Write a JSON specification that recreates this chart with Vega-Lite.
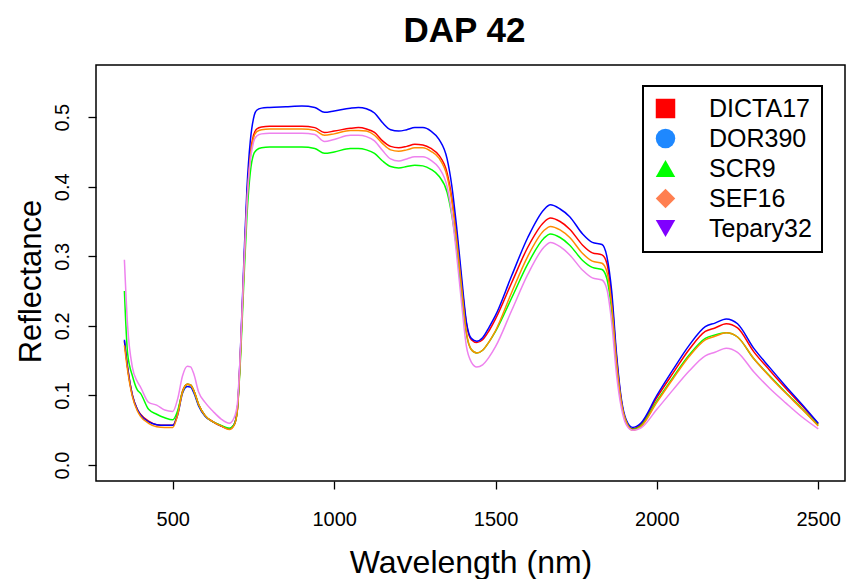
{
  "$schema": "https://vega.github.io/schema/vega-lite/v6.json",
  "width": 749,
  "height": 416,
  "autosize": "none",
  "padding": {"left": 96, "top": 65, "right": 1, "bottom": 98},
  "title": {"text": "DAP 42", "fontSize": 35, "fontWeight": "bold", "font": "Liberation Sans", "color": "black", "offset": 16, "dx": -6},
  "config": {
    "font": "Liberation Sans",
    "view": {"stroke": "black", "strokeWidth": 1.5},
    "legend": {"strokeWidth": 2},
    "axis": {"grid": false, "domain": false, "tickColor": "black", "tickWidth": 1.3, "tickSize": 8, "labelColor": "black", "titleColor": "black", "labelFont": "Liberation Sans", "titleFont": "Liberation Sans", "titleFontWeight": "normal"}
  },
  "data": {"values": [
    {"w":350,"DICTA17":0.178,"DOR390":0.180,"SCR9":0.250,"SEF16":0.172,"Tepary32":0.295},
    {"w":360,"DICTA17":0.140,"DOR390":0.140,"SCR9":0.160,"SEF16":0.136,"Tepary32":0.200},
    {"w":375,"DICTA17":0.100,"DOR390":0.100,"SCR9":0.128,"SEF16":0.098,"Tepary32":0.140},
    {"w":390,"DICTA17":0.080,"DOR390":0.080,"SCR9":0.108,"SEF16":0.078,"Tepary32":0.120},
    {"w":400,"DICTA17":0.073,"DOR390":0.072,"SCR9":0.103,"SEF16":0.070,"Tepary32":0.112},
    {"w":425,"DICTA17":0.063,"DOR390":0.062,"SCR9":0.080,"SEF16":0.060,"Tepary32":0.090},
    {"w":450,"DICTA17":0.058,"DOR390":0.058,"SCR9":0.073,"SEF16":0.055,"Tepary32":0.086},
    {"w":475,"DICTA17":0.057,"DOR390":0.057,"SCR9":0.068,"SEF16":0.054,"Tepary32":0.079},
    {"w":500,"DICTA17":0.057,"DOR390":0.057,"SCR9":0.065,"SEF16":0.054,"Tepary32":0.077},
    {"w":515,"DICTA17":0.074,"DOR390":0.072,"SCR9":0.078,"SEF16":0.072,"Tepary32":0.095},
    {"w":530,"DICTA17":0.106,"DOR390":0.103,"SCR9":0.105,"SEF16":0.105,"Tepary32":0.128},
    {"w":545,"DICTA17":0.116,"DOR390":0.113,"SCR9":0.116,"SEF16":0.116,"Tepary32":0.142},
    {"w":555,"DICTA17":0.115,"DOR390":0.112,"SCR9":0.115,"SEF16":0.115,"Tepary32":0.141},
    {"w":565,"DICTA17":0.107,"DOR390":0.104,"SCR9":0.107,"SEF16":0.107,"Tepary32":0.131},
    {"w":580,"DICTA17":0.087,"DOR390":0.085,"SCR9":0.087,"SEF16":0.087,"Tepary32":0.105},
    {"w":600,"DICTA17":0.071,"DOR390":0.070,"SCR9":0.071,"SEF16":0.071,"Tepary32":0.090},
    {"w":625,"DICTA17":0.062,"DOR390":0.062,"SCR9":0.062,"SEF16":0.062,"Tepary32":0.077},
    {"w":650,"DICTA17":0.056,"DOR390":0.056,"SCR9":0.057,"SEF16":0.056,"Tepary32":0.066},
    {"w":675,"DICTA17":0.052,"DOR390":0.052,"SCR9":0.053,"SEF16":0.051,"Tepary32":0.060},
    {"w":690,"DICTA17":0.058,"DOR390":0.058,"SCR9":0.058,"SEF16":0.057,"Tepary32":0.068},
    {"w":700,"DICTA17":0.080,"DOR390":0.080,"SCR9":0.079,"SEF16":0.078,"Tepary32":0.088},
    {"w":710,"DICTA17":0.165,"DOR390":0.170,"SCR9":0.155,"SEF16":0.162,"Tepary32":0.170},
    {"w":720,"DICTA17":0.280,"DOR390":0.290,"SCR9":0.262,"SEF16":0.275,"Tepary32":0.280},
    {"w":730,"DICTA17":0.385,"DOR390":0.400,"SCR9":0.360,"SEF16":0.380,"Tepary32":0.378},
    {"w":740,"DICTA17":0.447,"DOR390":0.465,"SCR9":0.420,"SEF16":0.442,"Tepary32":0.437},
    {"w":750,"DICTA17":0.474,"DOR390":0.498,"SCR9":0.446,"SEF16":0.470,"Tepary32":0.464},
    {"w":760,"DICTA17":0.483,"DOR390":0.510,"SCR9":0.453,"SEF16":0.479,"Tepary32":0.473},
    {"w":775,"DICTA17":0.486,"DOR390":0.513,"SCR9":0.456,"SEF16":0.482,"Tepary32":0.476},
    {"w":800,"DICTA17":0.487,"DOR390":0.514,"SCR9":0.457,"SEF16":0.483,"Tepary32":0.477},
    {"w":850,"DICTA17":0.487,"DOR390":0.515,"SCR9":0.457,"SEF16":0.483,"Tepary32":0.477},
    {"w":900,"DICTA17":0.487,"DOR390":0.516,"SCR9":0.457,"SEF16":0.483,"Tepary32":0.477},
    {"w":940,"DICTA17":0.485,"DOR390":0.514,"SCR9":0.455,"SEF16":0.481,"Tepary32":0.475},
    {"w":970,"DICTA17":0.478,"DOR390":0.507,"SCR9":0.448,"SEF16":0.474,"Tepary32":0.465},
    {"w":1000,"DICTA17":0.480,"DOR390":0.509,"SCR9":0.450,"SEF16":0.476,"Tepary32":0.468},
    {"w":1050,"DICTA17":0.484,"DOR390":0.513,"SCR9":0.455,"SEF16":0.481,"Tepary32":0.474},
    {"w":1075,"DICTA17":0.485,"DOR390":0.514,"SCR9":0.455,"SEF16":0.481,"Tepary32":0.474},
    {"w":1100,"DICTA17":0.483,"DOR390":0.512,"SCR9":0.453,"SEF16":0.480,"Tepary32":0.472},
    {"w":1125,"DICTA17":0.478,"DOR390":0.506,"SCR9":0.448,"SEF16":0.474,"Tepary32":0.466},
    {"w":1150,"DICTA17":0.466,"DOR390":0.492,"SCR9":0.437,"SEF16":0.462,"Tepary32":0.452},
    {"w":1175,"DICTA17":0.458,"DOR390":0.482,"SCR9":0.429,"SEF16":0.453,"Tepary32":0.440},
    {"w":1200,"DICTA17":0.456,"DOR390":0.480,"SCR9":0.427,"SEF16":0.451,"Tepary32":0.437},
    {"w":1225,"DICTA17":0.458,"DOR390":0.482,"SCR9":0.429,"SEF16":0.453,"Tepary32":0.440},
    {"w":1250,"DICTA17":0.461,"DOR390":0.485,"SCR9":0.431,"SEF16":0.456,"Tepary32":0.443},
    {"w":1275,"DICTA17":0.460,"DOR390":0.485,"SCR9":0.430,"SEF16":0.456,"Tepary32":0.443},
    {"w":1300,"DICTA17":0.455,"DOR390":0.480,"SCR9":0.425,"SEF16":0.451,"Tepary32":0.438},
    {"w":1325,"DICTA17":0.445,"DOR390":0.468,"SCR9":0.415,"SEF16":0.441,"Tepary32":0.427},
    {"w":1350,"DICTA17":0.420,"DOR390":0.440,"SCR9":0.392,"SEF16":0.415,"Tepary32":0.400},
    {"w":1365,"DICTA17":0.383,"DOR390":0.400,"SCR9":0.358,"SEF16":0.378,"Tepary32":0.360},
    {"w":1380,"DICTA17":0.330,"DOR390":0.340,"SCR9":0.310,"SEF16":0.322,"Tepary32":0.300},
    {"w":1395,"DICTA17":0.262,"DOR390":0.270,"SCR9":0.245,"SEF16":0.255,"Tepary32":0.232},
    {"w":1410,"DICTA17":0.203,"DOR390":0.205,"SCR9":0.188,"SEF16":0.190,"Tepary32":0.170},
    {"w":1425,"DICTA17":0.180,"DOR390":0.182,"SCR9":0.166,"SEF16":0.166,"Tepary32":0.148},
    {"w":1442,"DICTA17":0.176,"DOR390":0.178,"SCR9":0.161,"SEF16":0.161,"Tepary32":0.141},
    {"w":1460,"DICTA17":0.180,"DOR390":0.183,"SCR9":0.165,"SEF16":0.165,"Tepary32":0.144},
    {"w":1480,"DICTA17":0.193,"DOR390":0.198,"SCR9":0.177,"SEF16":0.177,"Tepary32":0.155},
    {"w":1500,"DICTA17":0.210,"DOR390":0.215,"SCR9":0.192,"SEF16":0.193,"Tepary32":0.170},
    {"w":1550,"DICTA17":0.262,"DOR390":0.272,"SCR9":0.240,"SEF16":0.248,"Tepary32":0.222},
    {"w":1600,"DICTA17":0.313,"DOR390":0.327,"SCR9":0.289,"SEF16":0.300,"Tepary32":0.274},
    {"w":1650,"DICTA17":0.349,"DOR390":0.367,"SCR9":0.326,"SEF16":0.337,"Tepary32":0.313},
    {"w":1670,"DICTA17":0.355,"DOR390":0.374,"SCR9":0.332,"SEF16":0.343,"Tepary32":0.320},
    {"w":1700,"DICTA17":0.350,"DOR390":0.368,"SCR9":0.327,"SEF16":0.338,"Tepary32":0.314},
    {"w":1730,"DICTA17":0.339,"DOR390":0.357,"SCR9":0.316,"SEF16":0.327,"Tepary32":0.302},
    {"w":1770,"DICTA17":0.316,"DOR390":0.332,"SCR9":0.294,"SEF16":0.304,"Tepary32":0.280},
    {"w":1800,"DICTA17":0.305,"DOR390":0.320,"SCR9":0.284,"SEF16":0.293,"Tepary32":0.269},
    {"w":1830,"DICTA17":0.302,"DOR390":0.317,"SCR9":0.281,"SEF16":0.290,"Tepary32":0.266},
    {"w":1845,"DICTA17":0.290,"DOR390":0.300,"SCR9":0.268,"SEF16":0.278,"Tepary32":0.253},
    {"w":1860,"DICTA17":0.240,"DOR390":0.250,"SCR9":0.222,"SEF16":0.230,"Tepary32":0.205},
    {"w":1875,"DICTA17":0.155,"DOR390":0.160,"SCR9":0.143,"SEF16":0.148,"Tepary32":0.130},
    {"w":1890,"DICTA17":0.092,"DOR390":0.095,"SCR9":0.088,"SEF16":0.090,"Tepary32":0.082},
    {"w":1905,"DICTA17":0.063,"DOR390":0.065,"SCR9":0.062,"SEF16":0.062,"Tepary32":0.058},
    {"w":1925,"DICTA17":0.052,"DOR390":0.054,"SCR9":0.051,"SEF16":0.050,"Tepary32":0.050},
    {"w":1950,"DICTA17":0.058,"DOR390":0.060,"SCR9":0.056,"SEF16":0.055,"Tepary32":0.053},
    {"w":2000,"DICTA17":0.097,"DOR390":0.100,"SCR9":0.092,"SEF16":0.090,"Tepary32":0.080},
    {"w":2050,"DICTA17":0.132,"DOR390":0.137,"SCR9":0.126,"SEF16":0.124,"Tepary32":0.108},
    {"w":2100,"DICTA17":0.166,"DOR390":0.172,"SCR9":0.158,"SEF16":0.156,"Tepary32":0.135},
    {"w":2150,"DICTA17":0.192,"DOR390":0.199,"SCR9":0.182,"SEF16":0.180,"Tepary32":0.157},
    {"w":2180,"DICTA17":0.197,"DOR390":0.204,"SCR9":0.187,"SEF16":0.185,"Tepary32":0.162},
    {"w":2215,"DICTA17":0.203,"DOR390":0.210,"SCR9":0.190,"SEF16":0.190,"Tepary32":0.168},
    {"w":2250,"DICTA17":0.197,"DOR390":0.203,"SCR9":0.184,"SEF16":0.184,"Tepary32":0.162},
    {"w":2300,"DICTA17":0.163,"DOR390":0.168,"SCR9":0.153,"SEF16":0.153,"Tepary32":0.134},
    {"w":2350,"DICTA17":0.136,"DOR390":0.140,"SCR9":0.128,"SEF16":0.127,"Tepary32":0.110},
    {"w":2400,"DICTA17":0.110,"DOR390":0.113,"SCR9":0.104,"SEF16":0.103,"Tepary32":0.089},
    {"w":2450,"DICTA17":0.085,"DOR390":0.087,"SCR9":0.081,"SEF16":0.080,"Tepary32":0.069},
    {"w":2500,"DICTA17":0.059,"DOR390":0.060,"SCR9":0.057,"SEF16":0.056,"Tepary32":0.052}
  ]},
  "layer": [
    {
      "transform": [
        {"fold": ["DICTA17", "DOR390", "SCR9", "SEF16", "Tepary32"], "as": ["variety", "reflectance"]}
      ],
      "mark": {"type": "line", "strokeWidth": 1.5, "interpolate": "monotone"},
      "encoding": {
        "x": {"field": "w", "type": "quantitative", "title": "Wavelength (nm)",
          "scale": {"domain": [262, 2583], "nice": false, "zero": false},
          "axis": {"values": [500, 1000, 1500, 2000, 2500], "format": "d", "labelFontSize": 20, "labelPadding": 20, "titleFontSize": 32, "titlePadding": 18, "labelFlush": false}},
        "y": {"field": "reflectance", "type": "quantitative", "title": "Reflectance",
          "scale": {"domain": [-0.023, 0.575], "nice": false, "zero": false},
          "axis": {"values": [0, 0.1, 0.2, 0.3, 0.4, 0.5], "format": ".1f", "labelAngle": -90, "labelAlign": "center", "labelBaseline": "bottom", "labelFontSize": 20, "labelPadding": 16, "titleFontSize": 31, "titlePadding": 5, "titleY": 216, "labelFlush": false}},
        "stroke": {"field": "variety", "type": "nominal", "legend": null,
          "scale": {"range": ["#FF0000", "#0000FF", "#00FF00", "#FF8C00", "#EE82EE"]}}
      }
    },
    {
      "transform": [
        {"filter": "datum.w == 350"},
        {"fold": ["DICTA17", "DOR390", "SCR9", "SEF16", "Tepary32"], "as": ["cultivar", "refl"]}
      ],
      "mark": {"type": "point", "filled": true, "opacity": 0.001},
      "encoding": {
        "x": {"field": "w", "type": "quantitative"},
        "y": {"field": "refl", "type": "quantitative"},
        "fill": {"field": "cultivar", "type": "nominal",
          "scale": {"range": ["#FF0000", "#1E88FF", "#00FF00", "#FF7F50", "#8000FF"]},
          "legend": {"title": null, "orient": "none", "legendX": 547, "legendY": 21, "padding": 10, "strokeColor": "black", "fillColor": "white", "symbolOpacity": 1, "symbolSize": 380, "symbolStrokeWidth": 0, "labelFontSize": 25, "labelFont": "Liberation Sans", "labelColor": "black", "labelOffset": 31, "rowPadding": 4, "labelLimit": 300}},
        "shape": {"field": "cultivar", "type": "nominal",
          "scale": {"range": ["square", "circle", "triangle-up", "diamond", "triangle-down"]},
          "legend": {"title": null, "orient": "none", "legendX": 547, "legendY": 21, "padding": 10, "strokeColor": "black", "fillColor": "white", "symbolOpacity": 1, "symbolSize": 380, "symbolStrokeWidth": 0, "labelFontSize": 25, "labelFont": "Liberation Sans", "labelColor": "black", "labelOffset": 31, "rowPadding": 4, "labelLimit": 300}}
      }
    }
  ]
}
